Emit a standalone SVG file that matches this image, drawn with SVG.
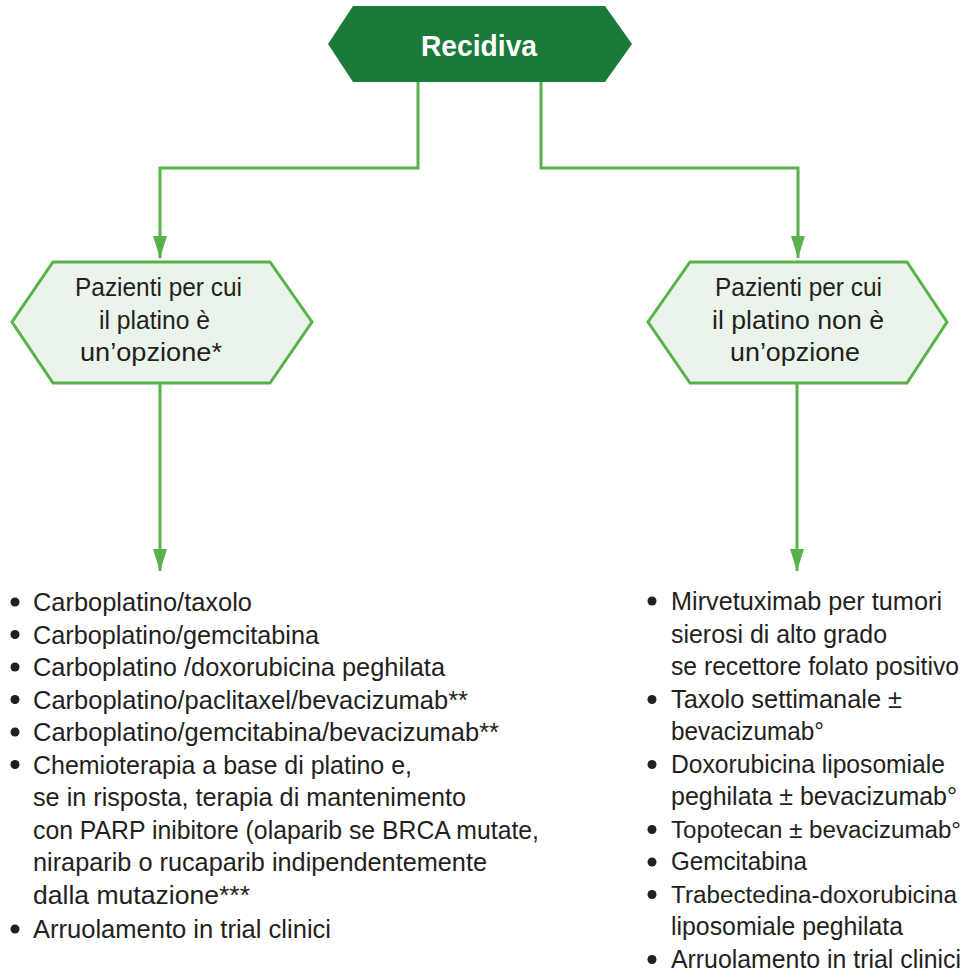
<svg xmlns="http://www.w3.org/2000/svg" width="975" height="976" viewBox="0 0 975 976">
  <defs>
    <style>
      .hex-dark { fill: #1b7a3a; }
      .hex-light { fill: #ebf4ea; stroke: #58b24a; stroke-width: 3; }
      .conn { fill: none; stroke: #58b24a; stroke-width: 3; }
      .t { font-family: "Liberation Sans", Arial, sans-serif; font-size: 26px; fill: #231f20; }
      .t-sm { font-size: 23.5px; }
      .title { font-family: "Liberation Sans", Arial, sans-serif; font-size: 30px; font-weight: bold; fill: #ffffff; }
      .bullet { fill: #231f20; }
    </style>
    <marker id="arrow" markerUnits="userSpaceOnUse" markerWidth="22" markerHeight="14" viewBox="0 0 22 14" refX="22" refY="7" orient="auto">
      <path d="M0,0 L22,7 L0,14 Z" fill="#58b24a"/>
    </marker>
  </defs>

  <rect width="975" height="976" fill="#ffffff"/>

  <!-- connectors -->
  <g id="connectors">
    <path class="conn" d="M418,82 V168 H160 V258" marker-end="url(#arrow)"/>
    <path class="conn" d="M541,82 V168 H798 V258" marker-end="url(#arrow)"/>
    <path class="conn" d="M160,384 V571" marker-end="url(#arrow)"/>
    <path class="conn" d="M797,384 V571" marker-end="url(#arrow)"/>
  </g>

  <!-- top node -->
  <g id="recidiva">
    <polygon class="hex-dark" points="353,6 605,6 632,44 605,82 353,82 328,44"/>
    <text class="title" x="421" y="56" textLength="116" lengthAdjust="spacingAndGlyphs">Recidiva</text>
  </g>

  <!-- left decision node -->
  <g id="platino-si">
    <polygon class="hex-light" points="53,262 270,262 312,322 270,383 53,383 12,322"/>
    <text class="t" x="75" y="296" textLength="167" lengthAdjust="spacingAndGlyphs">Pazienti per cui</text>
    <text class="t" x="99" y="328.5" textLength="111" lengthAdjust="spacingAndGlyphs">il platino è</text>
    <text class="t" x="80" y="361" textLength="142" lengthAdjust="spacingAndGlyphs">un’opzione*</text>
  </g>

  <!-- right decision node -->
  <g id="platino-no">
    <polygon class="hex-light" points="690,262 907,262 947,322 907,383 690,383 648,322"/>
    <text class="t" x="715" y="296" textLength="167" lengthAdjust="spacingAndGlyphs">Pazienti per cui</text>
    <text class="t" x="712" y="328.5" textLength="172" lengthAdjust="spacingAndGlyphs">il platino non è</text>
    <text class="t" x="730" y="361" textLength="130" lengthAdjust="spacingAndGlyphs">un’opzione</text>
  </g>

  <!-- left treatment list -->
  <g id="lista-platino">
    <circle class="bullet" cx="15" cy="602" r="4.5"/>
    <circle class="bullet" cx="15" cy="634.5" r="4.5"/>
    <circle class="bullet" cx="15" cy="667" r="4.5"/>
    <circle class="bullet" cx="15" cy="699.5" r="4.5"/>
    <circle class="bullet" cx="15" cy="732" r="4.5"/>
    <circle class="bullet" cx="15" cy="764.5" r="4.5"/>
    <circle class="bullet" cx="15" cy="929" r="4.5"/>
    <text class="t" x="33" y="611" textLength="219" lengthAdjust="spacingAndGlyphs">Carboplatino/taxolo</text>
    <text class="t" x="33" y="643.5" textLength="286" lengthAdjust="spacingAndGlyphs">Carboplatino/gemcitabina</text>
    <text class="t" x="33" y="676" textLength="412" lengthAdjust="spacingAndGlyphs">Carboplatino /doxorubicina peghilata</text>
    <text class="t" x="33" y="708.5" textLength="435" lengthAdjust="spacingAndGlyphs">Carboplatino/paclitaxel/bevacizumab**</text>
    <text class="t" x="33" y="741" textLength="466" lengthAdjust="spacingAndGlyphs">Carboplatino/gemcitabina/bevacizumab**</text>
    <text class="t" x="33" y="773.5" textLength="379" lengthAdjust="spacingAndGlyphs">Chemioterapia a base di platino e,</text>
    <text class="t" x="33" y="806" textLength="433" lengthAdjust="spacingAndGlyphs">se in risposta, terapia di mantenimento</text>
    <text class="t" x="33" y="838.5" textLength="506" lengthAdjust="spacingAndGlyphs">con PARP inibitore (olaparib se BRCA mutate,</text>
    <text class="t" x="33" y="871" textLength="454" lengthAdjust="spacingAndGlyphs">niraparib o rucaparib indipendentemente</text>
    <text class="t" x="33" y="903.5" textLength="217" lengthAdjust="spacingAndGlyphs">dalla mutazione***</text>
    <text class="t" x="33" y="938" textLength="298" lengthAdjust="spacingAndGlyphs">Arruolamento in trial clinici</text>
  </g>

  <!-- right treatment list -->
  <g id="lista-no-platino">
    <circle class="bullet" cx="652" cy="601" r="4.5"/>
    <circle class="bullet" cx="652" cy="699.5" r="4.5"/>
    <circle class="bullet" cx="652" cy="764.5" r="4.5"/>
    <circle class="bullet" cx="652" cy="829.5" r="4.5"/>
    <circle class="bullet" cx="652" cy="862" r="4.5"/>
    <circle class="bullet" cx="652" cy="894.5" r="4.5"/>
    <circle class="bullet" cx="652" cy="959.5" r="4.5"/>
    <text class="t" x="671" y="610" textLength="271" lengthAdjust="spacingAndGlyphs">Mirvetuximab per tumori</text>
    <text class="t" x="671" y="642.5" textLength="216" lengthAdjust="spacingAndGlyphs">sierosi di alto grado</text>
    <text class="t" x="671" y="675" textLength="288" lengthAdjust="spacingAndGlyphs">se recettore folato positivo</text>
    <text class="t" x="671" y="707.5" textLength="231" lengthAdjust="spacingAndGlyphs">Taxolo settimanale ±</text>
    <text class="t" x="671" y="740" textLength="153" lengthAdjust="spacingAndGlyphs">bevacizumab°</text>
    <text class="t" x="671" y="772.5" textLength="274" lengthAdjust="spacingAndGlyphs">Doxorubicina liposomiale</text>
    <text class="t" x="671" y="805" textLength="286" lengthAdjust="spacingAndGlyphs">peghilata ± bevacizumab°</text>
    <text class="t t-sm" x="671" y="837.5" textLength="290" lengthAdjust="spacingAndGlyphs">Topotecan ± bevacizumab°</text>
    <text class="t" x="671" y="870" textLength="136" lengthAdjust="spacingAndGlyphs">Gemcitabina</text>
    <text class="t t-sm" x="671" y="902.5" textLength="286" lengthAdjust="spacingAndGlyphs">Trabectedina-doxorubicina</text>
    <text class="t" x="671" y="935" textLength="232" lengthAdjust="spacingAndGlyphs">liposomiale peghilata</text>
    <text class="t" x="671" y="967.5" textLength="290" lengthAdjust="spacingAndGlyphs">Arruolamento in trial clinici</text>
  </g>
</svg>
